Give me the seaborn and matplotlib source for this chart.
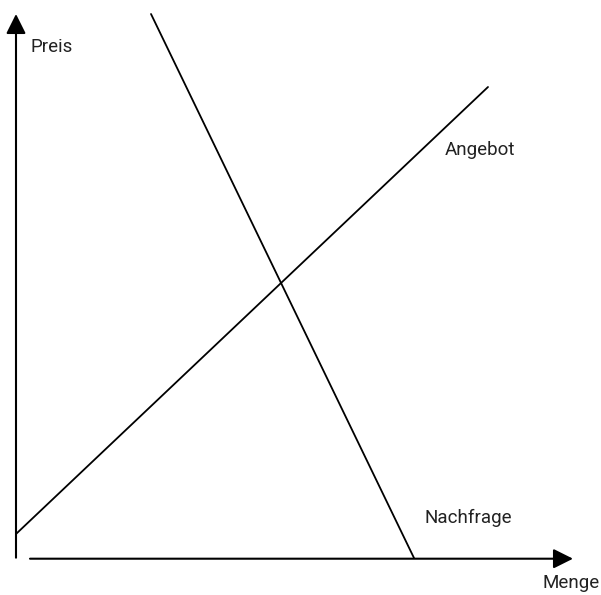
import matplotlib
matplotlib.use("Agg")
import matplotlib.pyplot as plt
import numpy as np
import pandas as pd
import seaborn as sns

# Angebot / Nachfrage (Menge, Preis)
angebot_menge = [0.0, 47.2]
angebot_preis = [2.4, 47.1]
nachfrage_menge = [13.5, 39.8]
nachfrage_preis = [54.4, 0.0]

labels = ["Angebot", "Nachfrage"]

df = pd.concat([
    pd.DataFrame({"Menge": angebot_menge, "Preis": angebot_preis, "Kurve": labels[0]}),
    pd.DataFrame({"Menge": nachfrage_menge, "Preis": nachfrage_preis, "Kurve": labels[1]}),
])

sns.set_style("white")
plt.rcParams["font.family"] = ["Roboto", "DejaVu Sans"]

fig = plt.figure(figsize=(6.01, 5.95), dpi=100)
ax = fig.add_axes([0, 0, 1, 1])

sns.lineplot(data=df, x="Menge", y="Preis", hue="Kurve", units="Kurve", estimator=None,
             palette=["black", "black"], linewidth=1.3, legend=False, ax=ax, sort=False)

ax.set_xlim(-1.6, 58.5)
ax.set_ylim(-3.7, 55.8)
ax.axis("off")

arrow = dict(arrowstyle="-|>,head_length=1.0,head_width=0.5", color="black",
             lw=1.5, mutation_scale=12, shrinkA=0, shrinkB=0)
# x-Achse
ax.annotate("", xy=(55.7, -0.07), xytext=(1.4, -0.07), arrowprops=arrow)
# y-Achse
ax.annotate("", xy=(0.0, 54.4), xytext=(0.0, 0.03), arrowprops=arrow)

fs = 13.5
ax.text(1.5, 51.1, "Preis", fontsize=fs, va="center", ha="left", color="#222222")
ax.text(42.9, 40.8, "Angebot", fontsize=fs, va="center", ha="left", color="#222222")
ax.text(40.9, 4.0, "Nachfrage", fontsize=fs, va="center", ha="left", color="#222222")
ax.text(52.7, -2.5, "Menge", fontsize=fs, va="center", ha="left", color="#222222")

fig.savefig("out.png", dpi=100)
